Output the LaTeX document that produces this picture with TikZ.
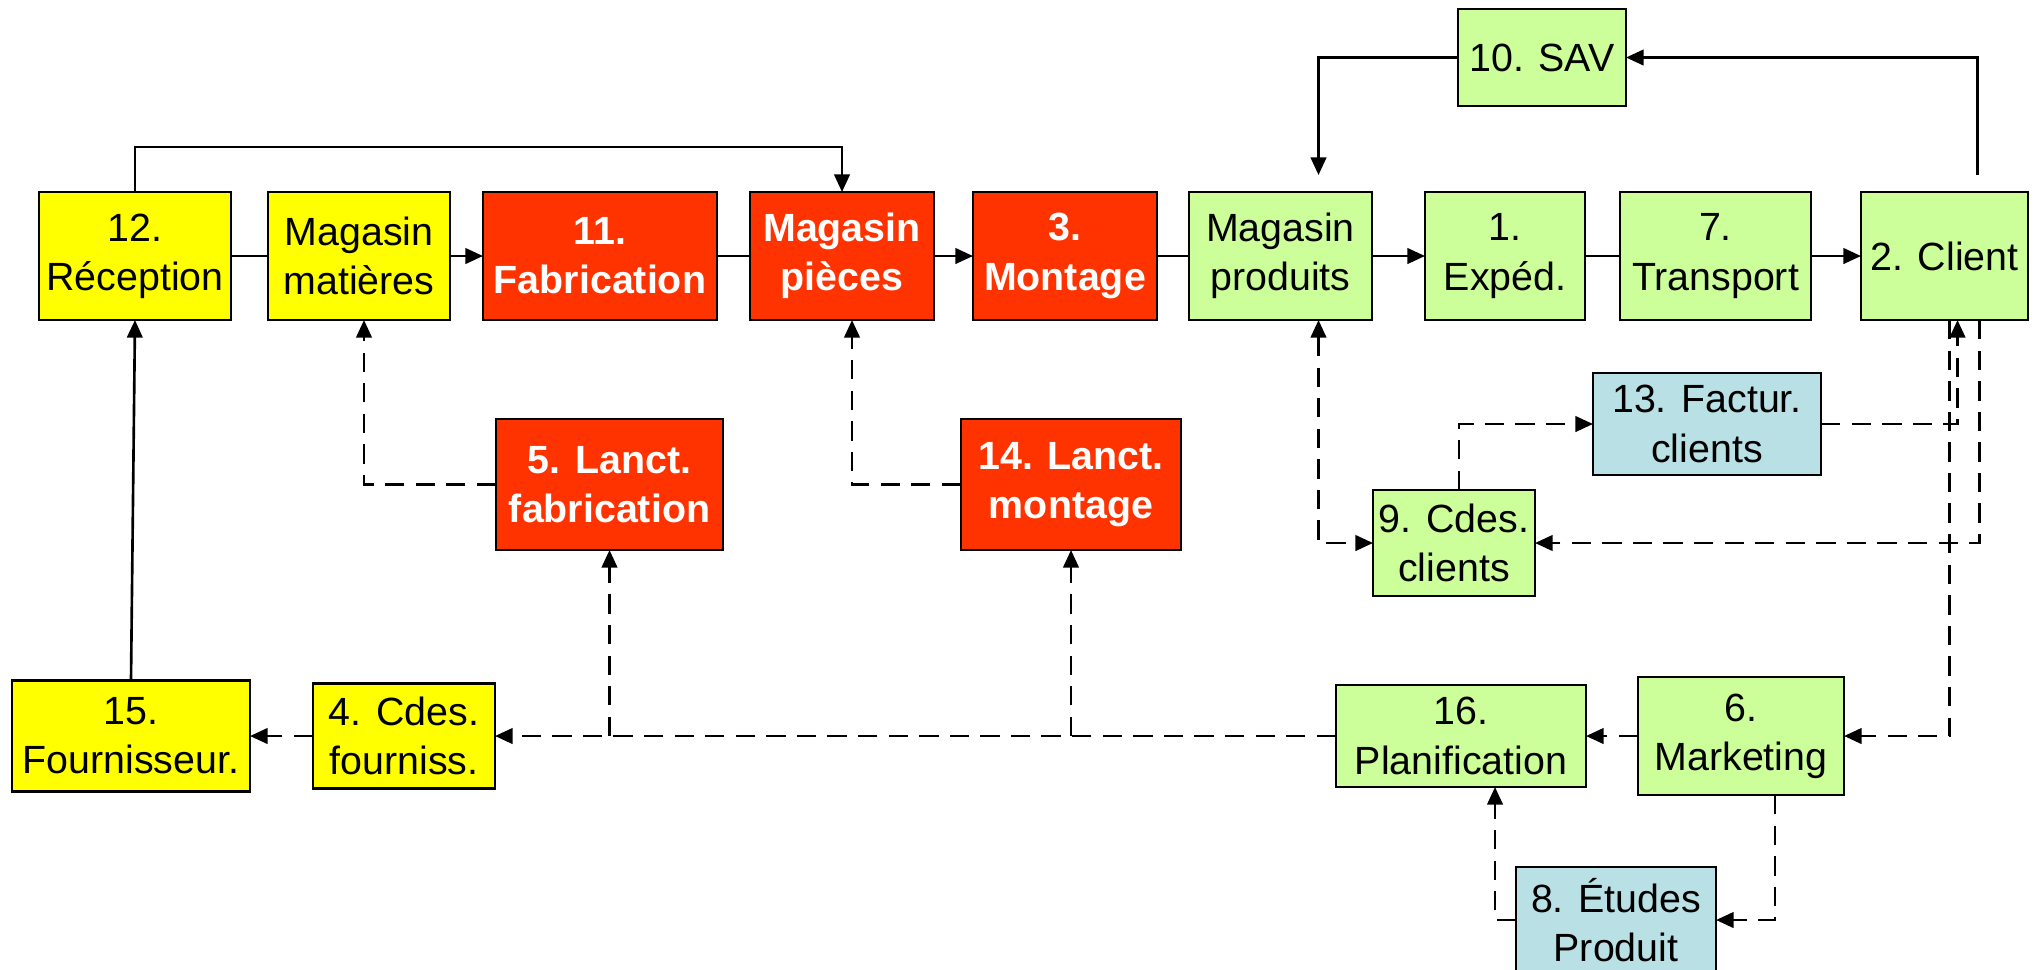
\documentclass[tikz,border=0pt]{standalone}
\usepackage{fontspec}
\setmainfont{Liberation Sans}
\usepackage{tikz}
\usetikzlibrary{positioning,arrows.meta}

\definecolor{jaune}{RGB}{255,255,0}
\definecolor{rouge}{RGB}{255,51,0}
\definecolor{vert}{RGB}{204,255,153}
\definecolor{bleu}{RGB}{185,224,228}

\tikzset{
  box/.style={draw=black, line width=0.8pt, align=center, inner sep=1pt, outer sep=0pt,
    font=\fontsize{11.2}{14}\selectfont},
  ybox/.style={box, fill=jaune},
  rbox/.style={box, fill=rouge, text=white, font=\fontsize{11.2}{14}\selectfont\bfseries},
  gbox/.style={box, fill=vert},
  cbox/.style={box, fill=bleu},
  row/.style={minimum height=1.28cm},
  tip/.tip={Triangle[length=5pt,width=4.4pt]},
  arr/.style={line width=0.75pt, -tip},
  line/.style={line width=0.75pt},
  darr/.style={arr, dash pattern=on 5.5pt off 3.2pt},
  ddarr/.style={darr, tip-tip},
}

\begin{document}
\begin{tikzpicture}
		\useasboundingbox (0,0) rectangle (20.38,-9.69);

		% Define nodes
		\node[ybox, row, minimum width=1.92cm] (rec) at (1.35,-2.56) {12.\\Réception};
		\node[ybox, row, minimum width=1.82cm, right=0.37cm of rec] (magmat) {Magasin\\matières};
		\node[rbox, row, minimum width=2.34cm, right=0.33cm of magmat] (fab) {11.\\Fabrication};
		\node[rbox, row, minimum width=1.84cm, right=0.33cm of fab] (magpie) {Magasin\\pièces};
		\node[rbox, row, minimum width=1.84cm, right=0.39cm of magpie] (mont) {3.\\Montage};
		\node[gbox, row, minimum width=1.83cm, right=0.32cm of mont] (magprod) {Magasin\\produits};
		\node[gbox, row, minimum width=1.60cm, right=0.53cm of magprod] (exped) {1.\\Expéd.};
		\node[gbox, row, minimum width=1.91cm, right=0.35cm of exped] (transp) {7.\\Transport};
		\node[gbox, row, minimum width=1.67cm, right=0.50cm of transp] (client) {2. Client};

		\node[gbox, minimum width=1.68cm, minimum height=0.97cm] (sav) at (15.42,-0.575) {10. SAV};

		\node[rbox, minimum width=2.27cm, minimum height=1.31cm] (lfab) at (6.095,-4.845) {5. Lanct.\\fabrication};
		\node[rbox, minimum width=2.20cm, minimum height=1.31cm, right=2.38cm of lfab] (lmont) {14. Lanct.\\montage};

		\node[cbox, minimum width=2.28cm, minimum height=1.02cm] (fact) at (17.07,-4.24) {13. Factur.\\clients};
		\node[gbox, minimum width=1.62cm, minimum height=1.06cm] (cdc) at (14.54,-5.43) {9. Cdes.\\clients};

		\node[ybox, minimum width=2.38cm, minimum height=1.11cm] (fourn) at (1.31,-7.36) {15.\\Fournisseur.};
		\node[ybox, minimum width=1.82cm, minimum height=1.05cm, right=0.63cm of fourn] (cdf) {4. Cdes.\\fourniss.};
		\node[gbox, minimum width=2.50cm, minimum height=1.02cm] (plan) at (14.61,-7.36) {16.\\Planification};
		\node[gbox, minimum width=2.06cm, minimum height=1.18cm, right=0.52cm of plan] (mark) {6.\\Marketing};
		\node[cbox, minimum width=2.00cm, minimum height=1.06cm] (etu) at (16.16,-9.20) {8. Études\\Produit};

		% Physical flow
		\draw[line] (rec) -- (magmat);
		\draw[arr] (magmat) -- (fab);
		\draw[line] (fab) -- (magpie);
		\draw[arr] (magpie) -- (mont);
		\draw[line] (mont) -- (magprod);
		\draw[arr] (magprod) -- (exped);
		\draw[line] (exped) -- (transp);
		\draw[arr] (transp) -- (client);
		\draw[arr] (rec.north) -- ++(0,0.45) -| (magpie.north);
		\draw[arr] (fourn.north) -- (rec.south);
		\draw[arr] ([xshift=0.33cm,yshift=0.17cm]client.north) |- (sav.east);
		\draw[arr] (sav.west) -| ([xshift=0.38cm,yshift=0.17cm]magprod.north);

		% Information flow
		\draw[darr] (lfab.west) -| ([xshift=0.05cm]magmat.south);
		\draw[darr] (lmont.west) -| ([xshift=0.10cm]magpie.south);
		\draw[darr] (cdf.west) -- (fourn.east);
		\draw[darr] (plan.west) -- (cdf.east);
		\draw[darr] (lfab |- plan.west) -- (lfab.south);
		\draw[darr] (lmont |- plan.west) -- (lmont.south);
		\draw[darr] (mark.west) -- (plan.east);
		\draw[darr] ([xshift=0.34cm]mark.south) |- (etu.east);
		\draw[darr] (etu.west) -| ([xshift=0.34cm]plan.south);
		\draw[ddarr] ([xshift=0.38cm]magprod.south) |- (cdc.west);
		\draw[darr] ([xshift=0.05cm]cdc.north) |- (fact.west);
		\draw[darr] (fact.east) -| ([xshift=0.13cm]client.south);
		\draw[darr] ([xshift=0.35cm]client.south) |- (cdc.east);
		\draw[darr] ([xshift=0.05cm]client.south) |- (mark.east);

	\end{tikzpicture}
\end{document}
